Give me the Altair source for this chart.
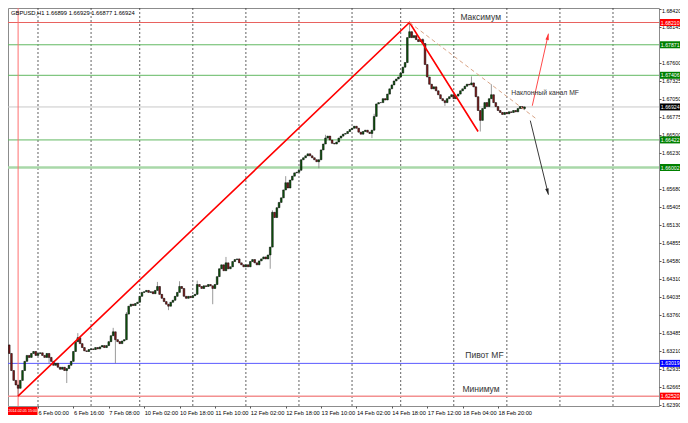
import altair as alt
import pandas as pd

# ---------------- data ----------------
bar_start = -13            # bar index of first close (index 0 = 6 Feb 00:00)
first_open = 1.6330
closes = [
    1.6317, 1.6291, 1.6276, 1.6269, 1.6264, 1.6276, 1.6291, 1.6305, 1.6314, 1.6311,
    1.6317, 1.6320, 1.6314, 1.6317, 1.6318, 1.6314, 1.6311, 1.6317, 1.6311, 1.6305,
    1.6299, 1.6302, 1.6296, 1.6293, 1.6296, 1.6291, 1.6294, 1.6299, 1.6305, 1.6320,
    1.6335, 1.6341, 1.6332, 1.6326, 1.6321, 1.6320, 1.6323, 1.6324, 1.6323, 1.6326,
    1.6324, 1.6327, 1.6329, 1.6326, 1.6329, 1.6335, 1.6344, 1.6350, 1.6338, 1.6335,
    1.6332, 1.6336, 1.6338, 1.6377, 1.6389, 1.6392, 1.6390, 1.6393, 1.6395, 1.6404,
    1.6410, 1.6411, 1.6413, 1.6410, 1.6411, 1.6408, 1.6413, 1.6419, 1.6407, 1.6401,
    1.6396, 1.6392, 1.6389, 1.6395, 1.6398, 1.6404, 1.6410, 1.6419, 1.6416, 1.6404,
    1.6401, 1.6404, 1.6402, 1.6405, 1.6407, 1.6422, 1.6419, 1.6416, 1.6420, 1.6419,
    1.6422, 1.6420, 1.6416, 1.6422, 1.6434, 1.6446, 1.6452, 1.6443, 1.6455, 1.6446,
    1.6449, 1.6457, 1.6460, 1.6461, 1.6455, 1.6452, 1.6449, 1.6452, 1.6449, 1.6457,
    1.6460, 1.6455, 1.6452, 1.6458, 1.6461, 1.6464, 1.6461, 1.6467, 1.6479, 1.6532,
    1.6524, 1.6539, 1.6547, 1.6554, 1.6566, 1.6577, 1.6569, 1.6581, 1.6587, 1.6592,
    1.6593, 1.6596, 1.6612, 1.6615, 1.6618, 1.6621, 1.6618, 1.6615, 1.6612, 1.6609,
    1.6612, 1.6627, 1.6636, 1.6645, 1.6648, 1.6642, 1.6637, 1.6636, 1.6639, 1.6645,
    1.6648, 1.6651, 1.6652, 1.6655, 1.6658, 1.6660, 1.6663, 1.6660, 1.6654, 1.6651,
    1.6655, 1.6657, 1.6654, 1.6652, 1.6657, 1.6678, 1.6697, 1.6699, 1.6699, 1.6705,
    1.6703, 1.6712, 1.6720, 1.6726, 1.6732, 1.6735, 1.6738, 1.6744, 1.6753, 1.6760,
    1.6798, 1.6807, 1.6798, 1.6801, 1.6795, 1.6792, 1.6795, 1.6789, 1.6757, 1.6738,
    1.6727, 1.6720, 1.6723, 1.6717, 1.6711, 1.6705, 1.6702, 1.6699, 1.6705, 1.6708,
    1.6711, 1.6705, 1.6709, 1.6712, 1.6717, 1.6720, 1.6724, 1.6727, 1.6726, 1.6729,
    1.6723, 1.6708, 1.6687, 1.6672, 1.6690, 1.6699, 1.6693, 1.6705, 1.6711, 1.6699,
    1.6693, 1.6687, 1.6684, 1.6681, 1.6684, 1.6682, 1.6685, 1.6684, 1.6687, 1.6685,
    1.6690, 1.6693, 1.66899, 1.66924,
]
spike_high = {-12: 1.6310, 18: 1.6348, 34: 1.6356, 40: 1.6380, 54: 1.6426, 64: 1.6427,
              72: 1.6428, 85: 1.6464, 106: 1.6535, 112: 1.6587, 130: 1.6650,
              152: 1.6682, 168: 1.68210, 174: 1.6797, 196: 1.6739, 205: 1.6727,
              220: 1.66929}
spike_low = {-9: 1.62520, 5: 1.6302, 13: 1.6272, 35: 1.6302, 59: 1.6383, 79: 1.6392,
             105: 1.6446, 127: 1.6599, 151: 1.6645, 184: 1.6694, 200: 1.6655,
             220: 1.66877}

time_tick_bars = [0, 16, 32, 48, 64, 80, 96, 112, 128, 144, 160, 176, 192, 208]
time_tick_labels = ["6 Feb 00:00", "6 Feb 16:00", "7 Feb 08:00", "10 Feb 02:00",
                    "10 Feb 18:00", "11 Feb 10:00", "12 Feb 02:00", "12 Feb 18:00",
                    "13 Feb 10:00", "14 Feb 02:00", "14 Feb 18:00", "17 Feb 12:00",
                    "18 Feb 04:00", "18 Feb 20:00"]
grid_bars = [0, 24, 46, 70, 94, 118, 142, 164, 188, 212, 236, 260]
# axis labels that are not hidden under the level boxes
price_ticks = [1.68420, 1.68145, 1.67600, 1.67325, 1.67050, 1.66775,
               1.66500, 1.66230, 1.65680, 1.65405, 1.65130, 1.64855,
               1.64580, 1.64310, 1.64035, 1.63760, 1.63485, 1.63210, 1.62935,
               1.62665, 1.62390]

level_prices = [1.68210, 1.67871, 1.67406, 1.66924, 1.66422, 1.66002, 1.63019, 1.62520]
level_colors = ["#e8625f", "#62b862", "#62b862", "#c8c8c8", "#62b862", "#a9d8a9", "#5a5aff", "#f39090"]
level_widths = [1, 1, 1, 1, 1, 2.5, 1, 1.5]
level_box_colors = ["#ff0000", "#008000", "#008000", "#000000", "#008000", "#008000", "#0000ff", "#ff0000"]

vline_bar = -9
vline_label = "2014.02.05 15:00"

zigzag_bars = [-9.05, 168, 199]
zigzag_prices = [1.62520, 1.68210, 1.66551]
channel_bars = [168, 225.8]
channel_prices = [1.68210, 1.66731]
up_arrow_bars = [223.5, 230.8]
up_arrow_prices = [1.66942, 1.68040]
down_arrow_bars = [222.6, 230.8]
down_arrow_prices = [1.66716, 1.65588]

note_texts = ["Максимум", "Пивот MF", "Минимум", "Наклонный канал MF"]
note_bars = [191.0, 193.2, 191.9, 214.0]
note_prices = [1.68295, 1.63140, 1.62630, 1.67140]
note_sizes = [8.5, 8.5, 8.5, 6.8]

title_text = "GBPUSD,H1  1.66899 1.66929 1.66877 1.66924"

# ---------------- tables ----------------
rows = []
prev = first_open
for k, c in enumerate(closes):
    i = bar_start + k
    o = prev
    hi = max(o, c)
    lo = min(o, c)
    if i in spike_high:
        hi = max(hi, spike_high[i])
    if i in spike_low:
        lo = min(lo, spike_low[i])
    rows.append({"i": i, "open": o, "close": c, "high": hi, "low": lo,
                 "dir": "bull" if c >= o else "bear"})
    prev = c
bars = pd.DataFrame(rows)

levels = pd.DataFrame({"p": level_prices, "col": level_colors, "w": level_widths,
                       "box": level_box_colors,
                       "lbl": [f"{v:.5f}" for v in level_prices]})
grid = pd.DataFrame({"i": grid_bars})
zig = pd.DataFrame({"i": zigzag_bars, "p": zigzag_prices})
chan = pd.DataFrame({"i": channel_bars, "p": channel_prices})
upa = pd.DataFrame({"i": up_arrow_bars, "p": up_arrow_prices})
dna = pd.DataFrame({"i": down_arrow_bars, "p": down_arrow_prices})
notes = pd.DataFrame({"i": note_bars, "p": note_prices, "t": note_texts, "s": note_sizes})
one = pd.DataFrame({"i": [vline_bar], "t": [vline_label]})
ttl = pd.DataFrame({"t": [title_text]})

FONT = "Liberation Sans"
W, H = 651, 398
xs = alt.Scale(domain=[-13.565, 280.80], nice=False, zero=False)
ys = alt.Scale(domain=[1.62370, 1.68431], nice=False, zero=False)

label_expr = "[" + ",".join(f"'{t}'" for t in time_tick_labels) + "][round(datum.value/16)]"
x_axis = alt.Axis(values=time_tick_bars, labelExpr=label_expr, orient="bottom",
                  labelAlign="left", labelBaseline="top", labelPadding=1, tickSize=2,
                  labelFontSize=5.7, labelFont=FONT, labelColor="#000", tickColor="#555",
                  domain=False, grid=False, title=None, labelOverlap=False, labelFlush=False)
y_axis = alt.Axis(values=price_ticks, format=".5f", orient="right", labelPadding=0.5,
                  tickSize=2, labelFontSize=5.3, labelFont=FONT, labelColor="#000",
                  tickColor="#555", domain=False, grid=False, title=None,
                  labelOverlap=False, labelFlush=1)

XA = lambda f: alt.X(f, type="quantitative", scale=xs, axis=x_axis)
YA = lambda f: alt.Y(f, type="quantitative", scale=ys, axis=y_axis)

gridl = alt.Chart(grid).mark_rule(color="#3a3a3a", strokeWidth=0.8, strokeDash=[2, 2]).encode(
    x=XA("i"))

lev = alt.Chart(levels).mark_rule().encode(
    y=YA("p"), color=alt.Color("col:N", scale=None),
    strokeWidth=alt.StrokeWidth("w:Q", scale=None))

vline = alt.Chart(one).mark_rule(color="#ff7070", strokeWidth=1).encode(x=XA("i"))

wicks = alt.Chart(bars).mark_rule(color="#808080", strokeWidth=0.8).encode(
    x=XA("i"), y=YA("low"), y2="high:Q")

bodies = alt.Chart(bars).transform_calculate(
    x1="datum.i - 0.38", x2="datum.i + 0.38").mark_rect(stroke="#000", strokeWidth=0.5).encode(
    x=XA("x1"), x2="x2:Q", y=YA("open"), y2="close:Q",
    color=alt.Color("dir:N", scale=alt.Scale(domain=["bull", "bear"], range=["#0e5a0e", "#8a1b1b"]),
                    legend=None))

zigl = alt.Chart(zig).mark_line(color="#ff0000", strokeWidth=1.6).encode(x=XA("i"), y=YA("p"))
chanl = alt.Chart(chan).mark_line(color="#d9a486", strokeWidth=1, strokeDash=[4, 3]).encode(
    x=XA("i"), y=YA("p"))
upl = alt.Chart(upa).mark_line(color="#ff4a4a", strokeWidth=1).encode(x=XA("i"), y=YA("p"))
dnl = alt.Chart(dna).mark_line(color="#3a3a3a", strokeWidth=1).encode(x=XA("i"), y=YA("p"))

head_shape = "M0,0 L0.55,2 L-0.55,2 Z"
uph = alt.Chart(upa.tail(1)).mark_point(shape=head_shape, filled=True, size=40, color="#ff3030",
                                        angle=12, opacity=1).encode(x=XA("i"), y=YA("p"))
dnh = alt.Chart(dna.tail(1)).mark_point(shape=head_shape, filled=True, size=40, color="#222222",
                                        angle=166, opacity=1).encode(x=XA("i"), y=YA("p"))

notel = alt.Chart(notes).mark_text(align="left", baseline="middle", color="#333333", font=FONT).encode(
    x=XA("i"), y=YA("p"), text="t:N", size=alt.Size("s:Q", scale=None))

boxes = alt.Chart(levels).mark_tick(orient="horizontal", thickness=7, size=20, opacity=1).encode(
    x=alt.value(W + 11), y=YA("p"), color=alt.Color("box:N", scale=None))
boxt = alt.Chart(levels).mark_text(align="left", baseline="middle", color="#ffffff", fontSize=5.2,
                                   font=FONT).encode(x=alt.value(W + 1.8), y=YA("p"), text="lbl:N")

dbox = alt.Chart(one).mark_rect(color="#ff0000").encode(
    x=alt.value(0), x2=alt.value(29.5), y=alt.value(H + 1), y2=alt.value(H + 9))
dtext = alt.Chart(one).mark_text(align="center", baseline="middle", color="#ffffff", fontSize=3.7,
                                 font=FONT).encode(x=alt.value(14.8), y=alt.value(H + 5), text="t:N")

title = alt.Chart(ttl).mark_text(align="left", baseline="top", color="#000", fontSize=5.8,
                                 font=FONT).encode(x=alt.value(3), y=alt.value(1.5), text="t:N")

chart = alt.layer(
    gridl, lev, vline, wicks, bodies, zigl, chanl, upl, dnl, uph, dnh,
    notel, boxes, boxt, dbox, dtext, title
).properties(
    width=W, height=H,
    autosize=alt.AutoSizeParams(type="none"),
    padding={"left": 0, "top": 0, "right": 21, "bottom": 9},
    background="#ffffff",
).configure_view(stroke="#8c8c8c", strokeWidth=1)

chart.save("out.html", embed_options={"renderer": "svg", "actions": False})
